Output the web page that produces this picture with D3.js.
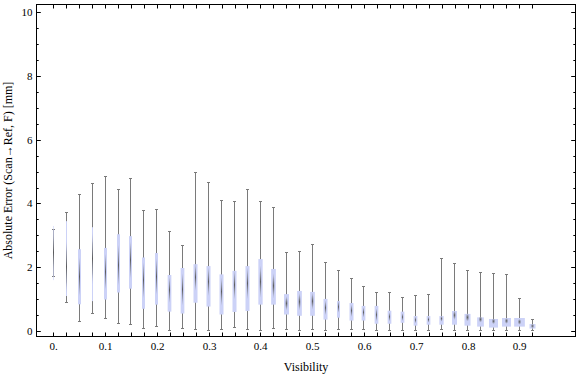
<!DOCTYPE html>
<html>
<head>
<meta charset="utf-8">
<script src="https://cdn.jsdelivr.net/npm/d3@7/dist/d3.min.js"></script>
<style>
  html, body { margin: 0; padding: 0; background: #fff; }
  svg { display: block; }
  text { font-family: "Liberation Serif", "Times New Roman", serif; fill: #000; }
</style>
</head>
<body>
<svg id="chart" width="576" height="377"></svg>
<script>
// ---- data ----
const visibility = [0.000, 0.025, 0.050, 0.075, 0.100, 0.125, 0.150, 0.175, 0.200, 0.225,
                    0.250, 0.275, 0.300, 0.325, 0.350, 0.375, 0.400, 0.425, 0.450, 0.475,
                    0.500, 0.525, 0.550, 0.575, 0.600, 0.625, 0.650, 0.675, 0.700, 0.725,
                    0.750, 0.775, 0.800, 0.825, 0.850, 0.875, 0.900, 0.925];
const whiskerLow  = [1.70, 0.90, 0.29, 0.56, 0.40, 0.23, 0.19, 0.07, 0.13, 0.01,
                     0.07, 0.04, 0.01, 0.04, 0.11, 0.04, 0.01, 0.07, 0.04, 0.01,
                     0.04, 0.01, 0.04, 0.04, 0.04, 0.01, 0.01, 0.01, 0.01, 0.01,
                     0.04, 0.02, 0.02, 0.02, 0.02, 0.02, 0.02, 0.01];
const quartile1   = [1.58, 1.08, 0.82, 0.92, 0.97, 1.19, 1.31, 0.68, 0.81, 0.59,
                     0.53, 0.87, 0.75, 0.50, 0.58, 0.61, 0.81, 0.81, 0.50, 0.46,
                     0.46, 0.34, 0.40, 0.31, 0.31, 0.21, 0.21, 0.24, 0.15, 0.18,
                     0.18, 0.18, 0.15, 0.12, 0.09, 0.12, 0.12, 0.06];
const medianVal   = [2.45, 2.00, 1.69, 2.26, 1.84, 2.05, 2.21, 1.58, 1.69, 1.27,
                     1.29, 1.67, 1.53, 1.22, 1.43, 1.48, 1.53, 1.40, 0.85, 0.90,
                     0.92, 0.71, 0.74, 0.62, 0.57, 0.49, 0.43, 0.42, 0.33, 0.34,
                     0.37, 0.48, 0.41, 0.35, 0.29, 0.30, 0.27, 0.14];
const quartile3   = [3.28, 3.43, 2.55, 3.24, 2.59, 3.02, 2.96, 2.29, 2.43, 1.74,
                     1.96, 2.08, 2.02, 1.76, 1.87, 2.02, 2.24, 1.93, 1.14, 1.24,
                     1.21, 0.99, 0.92, 0.86, 0.77, 0.77, 0.62, 0.59, 0.45, 0.45,
                     0.45, 0.61, 0.52, 0.41, 0.36, 0.39, 0.39, 0.20];
const whiskerHigh = [3.17, 3.71, 4.27, 4.62, 4.84, 4.44, 4.77, 3.77, 3.80, 3.11,
                     2.67, 4.96, 4.65, 4.08, 4.05, 4.43, 4.05, 3.86, 2.45, 2.49,
                     2.70, 2.14, 1.89, 1.64, 1.39, 1.20, 1.20, 1.06, 1.11, 1.14,
                     2.26, 2.11, 1.89, 1.82, 1.79, 1.76, 1.01, 0.37];
// relative sample weight (box width in the chart is proportional to it)
const boxWeight   = [6, 10, 30, 10, 30, 30, 30, 30, 30, 37,
                     37, 40, 40, 40, 40, 40, 43, 47, 50, 47,
                     47, 40, 30, 40, 37, 37, 37, 37, 37, 37,
                     43, 50, 60, 67, 90, 90, 107, 60];
const xTickValues = [0, 0.1, 0.2, 0.3, 0.4, 0.5, 0.6, 0.7, 0.8, 0.9];
const xTickLabels = ["0.", "0.1", "0.2", "0.3", "0.4", "0.5", "0.6", "0.7", "0.8", "0.9"];
const yMajorTicks = [0, 2, 4, 6, 8, 10];
const yMinorTicks = [0.5, 1, 1.5, 2.5, 3, 3.5, 4.5, 5, 5.5, 6.5, 7, 7.5, 8.5, 9, 9.5];
const xLabel = "Visibility";
const yLabel = "Absolute Error (Scan\u2192Ref, F) [mm]";

(function draw() {
  // ---- layout ----
  const mLeft = 36.5, mRight = 575.5, mTop = 4.5, mBottom = 336.5;
  const svg = d3.select("#chart");

  const x = d3.scaleLinear().domain([-0.0325, 1.0085]).range([mLeft, mRight]);
  const y = d3.scaleLinear().domain([-0.19, 10.23]).range([mBottom, mTop]);
  const wScale = d3.scaleLinear().domain([0, 107]).range([0, 10.7]);
  const px = v => Math.floor(x(v)) + 0.5;      // crisp pixel column
  const py = v => Math.round(y(v)) + 0.5;

  const rows = visibility.map((v, i) => ({
    v, lo: whiskerLow[i], q1: quartile1[i], med: medianVal[i],
    q3: quartile3[i], hi: whiskerHigh[i], w: wScale(boxWeight[i])
  }));

  const defs = svg.append("defs");
  const grad = defs.append("radialGradient").attr("id", "medGrad");
  grad.append("stop").attr("offset", "0%").attr("stop-color", "#555").attr("stop-opacity", 0.95);
  grad.append("stop").attr("offset", "55%").attr("stop-color", "#777a80").attr("stop-opacity", 0.55);
  grad.append("stop").attr("offset", "100%").attr("stop-color", "#9a9aa8").attr("stop-opacity", 0);

  // ---- marks ----
  const g = svg.append("g");
  const whiskerColor = "#7a7a7a";
  const boxColor = "rgb(204,210,247)";

  const item = g.selectAll("g.item").data(rows).join("g").attr("class", "item");

  item.append("line")
    .attr("x1", d => px(d.v)).attr("x2", d => px(d.v))
    .attr("y1", d => py(d.lo)).attr("y2", d => py(d.hi))
    .attr("stroke", whiskerColor).attr("stroke-width", 1);
  item.append("line")
    .attr("x1", d => px(d.v) - 1.5).attr("x2", d => px(d.v) + 1.5)
    .attr("y1", d => py(d.hi)).attr("y2", d => py(d.hi))
    .attr("stroke", whiskerColor).attr("stroke-width", 1);
  item.append("line")
    .attr("x1", d => px(d.v) - 1.5).attr("x2", d => px(d.v) + 1.5)
    .attr("y1", d => py(d.lo)).attr("y2", d => py(d.lo))
    .attr("stroke", whiskerColor).attr("stroke-width", 1);

  item.append("rect")
    .attr("x", d => px(d.v) - d.w / 2)
    .attr("width", d => d.w)
    .attr("y", d => y(d.q3))
    .attr("height", d => y(d.q1) - y(d.q3))
    .attr("fill", boxColor);

  item.append("ellipse")
    .attr("cx", d => px(d.v))
    .attr("cy", d => y(d.med))
    .attr("rx", d => Math.min(1.8, Math.max(0.6, d.w * 0.3)))
    .attr("ry", d => Math.max(2.5, 0.36 * (y(d.q1) - y(d.q3))))
    .attr("fill", "url(#medGrad)");

  // ---- axes ----
  const axBottom = d3.axisBottom(x).tickValues(visibility).tickSize(-4).tickPadding(6)
    .tickFormat(d => { const k = xTickValues.findIndex(t => Math.abs(t - d) < 1e-6); return k >= 0 ? xTickLabels[k] : ""; });
  const gB = svg.append("g").attr("transform", `translate(0,${mBottom})`).call(axBottom);
  gB.selectAll("text").style("font-size", "11px");

  const axTop = d3.axisTop(x).tickValues(visibility).tickSize(-4).tickFormat("");
  svg.append("g").attr("transform", `translate(0,${mTop})`).call(axTop);

  const axLeftMajor = d3.axisLeft(y).tickValues(yMajorTicks).tickSize(-4.3).tickPadding(4).tickFormat(d3.format("d"));
  const gL = svg.append("g").attr("transform", `translate(${mLeft},0)`).call(axLeftMajor);
  gL.selectAll("text").style("font-size", "11px");
  const axLeftMinor = d3.axisLeft(y).tickValues(yMinorTicks).tickSize(-2.2).tickFormat("");
  svg.append("g").attr("transform", `translate(${mLeft},0)`).call(axLeftMinor);

  const axRightMajor = d3.axisRight(y).tickValues(yMajorTicks).tickSize(-4.3).tickFormat("");
  svg.append("g").attr("transform", `translate(${mRight},0)`).call(axRightMajor);
  const axRightMinor = d3.axisRight(y).tickValues(yMinorTicks).tickSize(-2.2).tickFormat("");
  svg.append("g").attr("transform", `translate(${mRight},0)`).call(axRightMinor);

  svg.selectAll(".domain").remove();
  svg.selectAll(".tick line").attr("stroke", "#000");
  svg.selectAll(".tick").each(function () {
    // snap tick marks to whole pixels for crisp 1px lines
    const t = d3.select(this).attr("transform");
    const m = /translate\(([-\d.]+),([-\d.]+)\)/.exec(t);
    if (m) {
      const tx = +m[1], ty = +m[2];
      d3.select(this).attr("transform",
        `translate(${tx ? Math.floor(tx) + 0.5 : 0},${ty ? Math.round(ty) + 0.5 : 0})`);
    }
  });
  svg.selectAll(".tick text").attr("fill", "#000").style("font-family", "'Liberation Serif', serif");

  // frame
  svg.append("rect")
    .attr("x", mLeft).attr("y", mTop)
    .attr("width", mRight - mLeft).attr("height", mBottom - mTop)
    .attr("fill", "none").attr("stroke", "#000").attr("stroke-width", 1);

  // labels
  svg.append("text")
    .attr("x", (mLeft + mRight) / 2).attr("y", 371)
    .attr("text-anchor", "middle").style("font-size", "12px")
    .text(xLabel);

  svg.append("text")
    .attr("transform", `translate(11.5,${(mTop + mBottom) / 2}) rotate(-90)`)
    .attr("text-anchor", "middle").style("font-size", "12px")
    .text(yLabel);
})();
</script>
</body>
</html>
